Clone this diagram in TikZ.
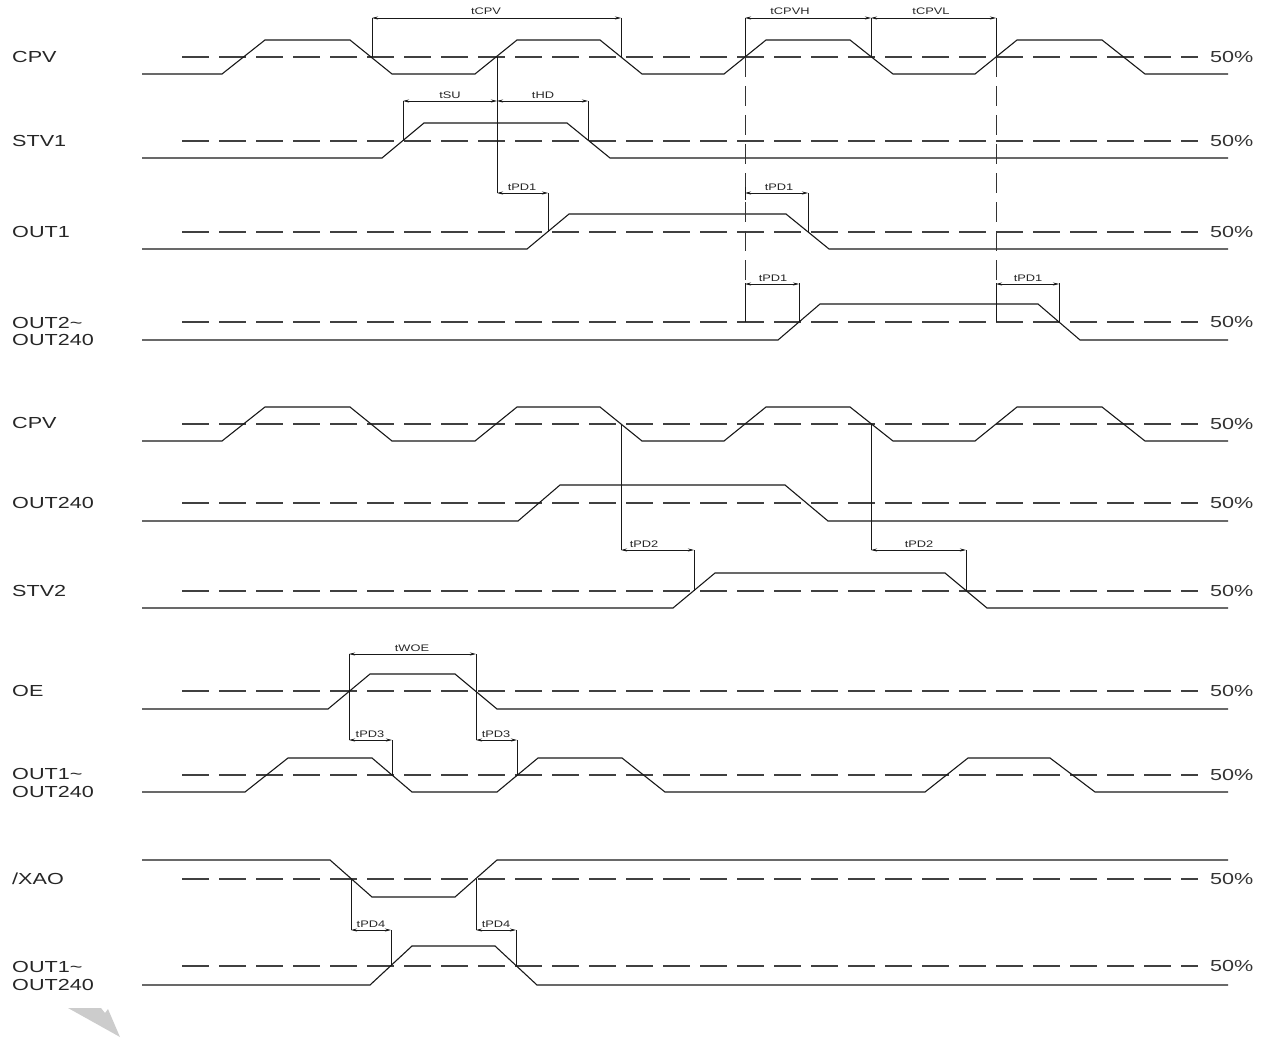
\documentclass[tikz,border=0pt]{standalone}
\usepackage{fontspec}
\setmainfont{Liberation Sans}
\usetikzlibrary{arrows.meta}
\newcommand{\siglbl}[1]{\scalebox{1.35}[1]{\fontsize{16}{18}\selectfont #1}}
\newcommand{\dimlbl}[1]{\scalebox{1.35}[1]{\fontsize{9.5}{11}\selectfont #1}}
\begin{document}
\begin{tikzpicture}[x=1pt,y=-1pt,
  sig/.style={line width=1.1pt, black!90, line join=miter},
  half/.style={line width=1.1pt, black!75, dash pattern=on 27pt off 10pt},
  vdash/.style={line width=1pt, black!80, dash pattern=on 20pt off 9pt},
  ext/.style={line width=1pt, black!90},
  dimln/.style={line width=0.7pt, black!90, {Stealth[length=6pt,width=3pt]}-{Stealth[length=6pt,width=3pt]}},
  lbl/.style={anchor=west, inner sep=0pt, text=black!85, align=left},
  pct/.style={anchor=west, inner sep=0pt, text=black!80},
  dl/.style={inner sep=0pt, text=black!85}]
\useasboundingbox (0,0) rectangle (1268,1038);

% ---------- 50% dashed reference lines and labels ----------
\foreach \yy/\nm in {57/a,141/b,232/c,322/d,424/e,503/f,591/g,691/h,775/i,879/j,966/k}{
  \draw[half] (182,\yy) -- (1198,\yy);
  \node[pct] (pct\nm) at (1210,\yy) {\siglbl{50\%}};
}

% ---------- signal names ----------
\node[lbl] (nCPVa) at (12,57) {\siglbl{CPV}};
\node[lbl] (nSTV1) at (12,141) {\siglbl{STV1}};
\node[lbl] (nOUT1) at (12,232) {\siglbl{OUT1}};
\node[lbl] (nOUT2a) at (12,323) {\siglbl{OUT2\char"7E}};
\node[lbl] (nOUT2b) at (12,340) {\siglbl{OUT240}};
\node[lbl] (nCPVb) at (12,423) {\siglbl{CPV}};
\node[lbl] (nOUT240) at (12,503) {\siglbl{OUT240}};
\node[lbl] (nSTV2) at (12,591) {\siglbl{STV2}};
\node[lbl] (nOE) at (12,691) {\siglbl{OE}};
\node[lbl] (nOUTa1) at (12,774) {\siglbl{OUT1\char"7E}};
\node[lbl] (nOUTa2) at (12,792) {\siglbl{OUT240}};
\node[lbl] (nXAO) at (12,879) {\siglbl{/XAO}};
\node[lbl] (nOUTb1) at (12,967) {\siglbl{OUT1\char"7E}};
\node[lbl] (nOUTb2) at (12,985) {\siglbl{OUT240}};

% ---------- waveforms ----------
% CPV (top)
\draw[sig] (142,74) -- (222,74) -- (265,40) -- (350,40) -- (392,74) -- (475,74) -- (517,40) -- (600,40) -- (642,74) -- (724,74) -- (766,40) -- (850,40) -- (893,74) -- (975,74) -- (1017,40) -- (1102,40) -- (1145,74) -- (1228,74);
% STV1
\draw[sig] (142,158) -- (382,158) -- (424,123) -- (567,123) -- (610,158) -- (1228,158);
% OUT1
\draw[sig] (142,249) -- (527,249) -- (569,214) -- (786,214) -- (829,249) -- (1228,249);
% OUT2~OUT240
\draw[sig] (142,340) -- (778,340) -- (820,304) -- (1038,304) -- (1080,340) -- (1228,340);
% CPV (second)
\draw[sig] (142,441) -- (222,441) -- (265,407) -- (350,407) -- (392,441) -- (475,441) -- (517,407) -- (600,407) -- (642,441) -- (724,441) -- (766,407) -- (850,407) -- (893,441) -- (975,441) -- (1017,407) -- (1102,407) -- (1145,441) -- (1228,441);
% OUT240
\draw[sig] (142,521) -- (518,521) -- (560,485) -- (785,485) -- (828,521) -- (1228,521);
% STV2
\draw[sig] (142,608) -- (673,608) -- (715,573) -- (945,573) -- (987,608) -- (1228,608);
% OE
\draw[sig] (142,709) -- (328,709) -- (370,674) -- (455,674) -- (497,709) -- (1228,709);
% OUT1~OUT240 (OE)
\draw[sig] (142,792) -- (245,792) -- (288,758) -- (372,758) -- (412,792) -- (497,792) -- (538,758) -- (622,758) -- (665,792) -- (925,792) -- (968,758) -- (1050,758) -- (1095,792) -- (1228,792);
% /XAO
\draw[sig] (142,860) -- (330,860) -- (372,897) -- (455,897) -- (497,860) -- (1228,860);
% OUT1~OUT240 (XAO)
\draw[sig] (142,985) -- (370,985) -- (412,946) -- (495,946) -- (537,985) -- (1228,985);

% ---------- section 1 timing ----------
% tCPV
\draw[ext] (372,18) -- (372,57);
\draw[ext] (621,18) -- (621,57);
\draw[dimln] (372,18) -- (621,18);
\node[dl] (ltCPV) at (486,11) {\dimlbl{tCPV}};
% tCPVH / tCPVL
\draw[ext] (745,18) -- (745,57);
\draw[ext] (871,18) -- (871,57);
\draw[ext] (996,18) -- (996,57);
\draw[dimln] (745,18) -- (871,18);
\draw[dimln] (871,18) -- (996,18);
\node[dl] (ltCPVH) at (790,11) {\dimlbl{tCPVH}};
\node[dl] (ltCPVL) at (931,11) {\dimlbl{tCPVL}};
\draw[vdash] (745,57) -- (745,322);
\draw[vdash] (996,57) -- (996,322);
% tSU / tHD
\draw[ext] (403,101) -- (403,141);
\draw[ext] (588,101) -- (588,141);
\draw[ext] (497,57) -- (497,193);
\draw[dimln] (403,101) -- (497,101);
\draw[dimln] (497,101) -- (588,101);
\node[dl] (ltSU) at (450,95) {\dimlbl{tSU}};
\node[dl] (ltHD) at (543,95) {\dimlbl{tHD}};
% tPD1 on OUT1
\draw[ext] (548,193) -- (548,232);
\draw[dimln] (497,193) -- (548,193);
\node[dl] (ltPDa) at (522,187) {\dimlbl{tPD1}};
\draw[ext] (745,187) -- (745,200);
\draw[ext] (808,193) -- (808,232);
\draw[dimln] (745,193) -- (808,193);
\node[dl] (ltPDb) at (779,187) {\dimlbl{tPD1}};
% tPD1 on OUT2
\draw[ext] (745,283) -- (745,322);
\draw[ext] (799,283) -- (799,322);
\draw[dimln] (745,284) -- (799,284);
\node[dl] (ltPDc) at (773,278) {\dimlbl{tPD1}};
\draw[ext] (996,283) -- (996,322);
\draw[ext] (1059,283) -- (1059,322);
\draw[dimln] (996,284) -- (1059,284);
\node[dl] (ltPDd) at (1028,278) {\dimlbl{tPD1}};

% ---------- section 2 timing ----------
\draw[ext] (621,424) -- (621,550);
\draw[ext] (694,550) -- (694,591);
\draw[dimln] (621,550) -- (694,550);
\node[dl] (ltPDe) at (644,544) {\dimlbl{tPD2}};
\draw[ext] (871,424) -- (871,550);
\draw[ext] (966,550) -- (966,591);
\draw[dimln] (871,550) -- (966,550);
\node[dl] (ltPDf) at (919,544) {\dimlbl{tPD2}};

% ---------- section 3 timing ----------
\draw[ext] (349,654) -- (349,740);
\draw[ext] (476,654) -- (476,740);
\draw[dimln] (349,654) -- (476,654);
\node[dl] (ltWOE) at (412,648) {\dimlbl{tWOE}};
\draw[ext] (392,740) -- (392,775);
\draw[dimln] (349,740) -- (392,740);
\node[dl] (ltPDg) at (370,734) {\dimlbl{tPD3}};
\draw[ext] (517,740) -- (517,775);
\draw[dimln] (476,740) -- (517,740);
\node[dl] (ltPDh) at (496,734) {\dimlbl{tPD3}};

% ---------- section 4 timing ----------
\draw[ext] (351,879) -- (351,930);
\draw[ext] (476,879) -- (476,930);
\draw[ext] (391,930) -- (391,966);
\draw[dimln] (351,930) -- (391,930);
\node[dl] (ltPDi) at (371,924) {\dimlbl{tPD4}};
\draw[ext] (516,930) -- (516,966);
\draw[dimln] (476,930) -- (516,930);
\node[dl] (ltPDj) at (496,924) {\dimlbl{tPD4}};

% ---------- grey mark bottom left ----------
\fill[black!20] (68,1008) -- (101,1008) -- (105,1013) -- (108,1009) -- (120,1037) -- cycle;
\end{tikzpicture}
\end{document}
